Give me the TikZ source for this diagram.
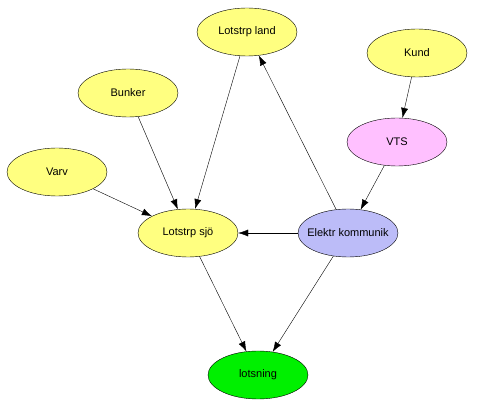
\documentclass[tikz,border=0pt]{standalone}
\usepackage{fontspec}
\setmainfont{Liberation Sans}
\usepackage{tikz}
\usetikzlibrary{arrows.meta,shapes.geometric}

\definecolor{paleyellow}{HTML}{FFFF80}
\definecolor{palepink}{HTML}{FFC0FF}
\definecolor{paleblue}{HTML}{BCBCF8}
\definecolor{brightgreen}{HTML}{00F000}

\begin{document}
\begin{tikzpicture}[
  x=1pt, y=-1pt,
  oval/.style={draw, ellipse, fill=paleyellow, minimum width=100pt, minimum height=48pt, inner sep=0pt, font=\fontsize{11}{13}\selectfont},
  arr/.style={-{Latex[length=10pt,width=7pt]}}
]
\useasboundingbox[fill=white] (0,0) rectangle (480,414);
\node[oval] (land) at (247,32) {Lotstrp land};
\node[oval] (kund) at (417,53) {Kund};
\node[oval] (bunker) at (128,93) {Bunker};
\node[oval, fill=palepink] (vts) at (397,142) {VTS};
\node[oval] (varv) at (57,172) {Varv};
\node[oval] (sjo) at (188,233) {Lotstrp sjö};
\node[oval, fill=paleblue, inner xsep=-9pt] (ekom) at (348,233) {Elektr kommunik};
\node[oval, fill=brightgreen] (lots) at (258,375) {lotsning};
\draw[arr] (land) -- (sjo);
\draw[arr] (bunker) -- (sjo);
\draw[arr] (varv) -- (sjo);
\draw[arr] (kund) -- (vts);
\draw[arr] (vts) -- (ekom);
\draw[arr] (ekom) -- (land);
\draw[arr] (ekom) -- (sjo);
\draw[arr] (sjo) -- (lots);
\draw[arr] (ekom) -- (lots);
\end{tikzpicture}
\end{document}
